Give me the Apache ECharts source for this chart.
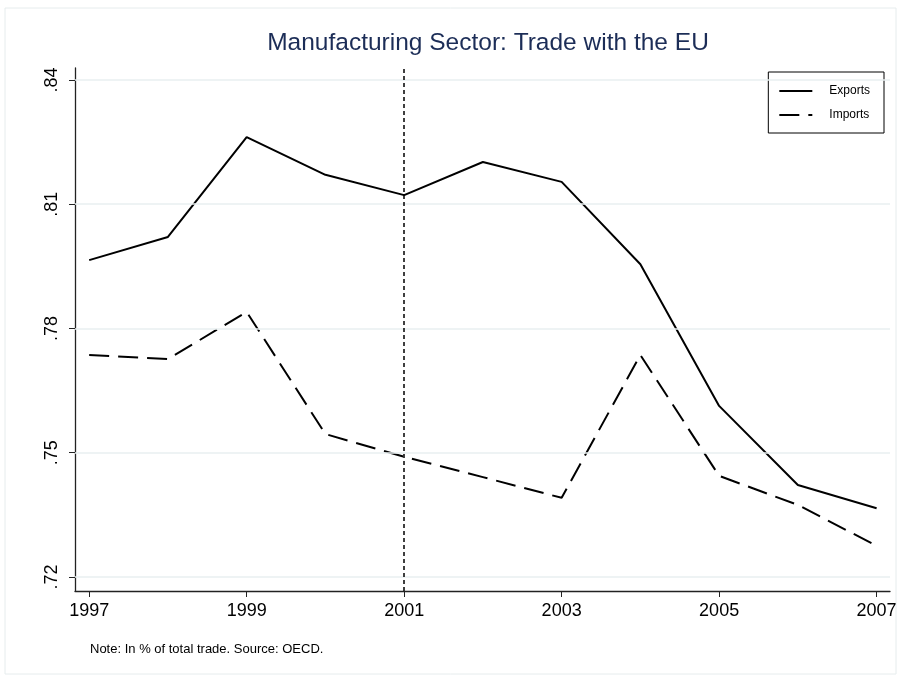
<!DOCTYPE html>
<html>
<head>
<meta charset="utf-8">
<script src="https://cdn.jsdelivr.net/npm/echarts@6/dist/echarts.min.js"></script>
<style>
  html, body { margin: 0; padding: 0; background: #fff; }
  #myChart { width: 904px; height: 681px; }
</style>
</head>
<body>
<div id="myChart"></div>
<script>
// 年份
var years = [1997, 1998, 1999, 2000, 2001, 2002, 2003, 2004, 2005, 2006, 2007];
// 出口占比
var exportsData = [0.7965, 0.8021, 0.8262, 0.8171, 0.8122, 0.8202, 0.8154, 0.7955, 0.7613, 0.7422, 0.7366];
// 进口占比
var importsData = [0.7736, 0.7726, 0.7840, 0.7545, 0.7490, 0.7441, 0.7391, 0.7736, 0.7444, 0.7374, 0.7275];
var xTicks = [1997, 1999, 2001, 2003, 2005, 2007];
var yTicks = [0.72, 0.75, 0.78, 0.81, 0.84];
var markYear = 2001;

const font = 'Liberation Sans, Arial, Helvetica, sans-serif';

function pairs(vals) {
    return years.map(function (y, i) { return [y, vals[i]]; });
}

let myChart = echarts.init(document.getElementById('myChart'));
myChart.setOption({
    animation: false,
    title: {
        text: 'Manufacturing Sector: Trade with the EU',
        left: 483,
        textAlign: 'center',
        top: 26,
        textStyle: { color: '#1c2d57', fontFamily: font, fontWeight: 'normal', fontSize: 24.5 }
    },
    graphic: [
        {
            type: 'rect',
            shape: { x: 5, y: 8, width: 891, height: 666 },
            style: { fill: 'none', stroke: '#e6eced', lineWidth: 1 },
            z: -1
        },
        {
            type: 'text',
            left: 90,
            top: 643,
            style: { text: 'Note: In % of total trade. Source: OECD.', fill: '#000', font: '13px ' + font }
        }
    ],
    legend: {
        right: 20,
        top: 72,
        orient: 'vertical',
        itemWidth: 33,
        itemHeight: 2,
        itemGap: 12,
        padding: [13, 14, 12, 10],
        borderColor: '#000',
        borderWidth: 1,
        textStyle: { fontFamily: font, fontSize: 12, color: '#000', padding: [0, 0, 0, 12] },
        data: ['Exports', 'Imports']
    },
    grid: { left: 75, right: 14, top: 68, bottom: 90 },
    xAxis: {
        type: 'value',
        min: 1996.82,
        max: 2007.17,
        axisLine: { lineStyle: { color: '#222', width: 1.3 } },
        axisTick: { customValues: xTicks, length: 6, lineStyle: { color: '#222' } },
        axisLabel: {
            customValues: xTicks,
            margin: 11,
            color: '#000',
            fontFamily: font,
            fontSize: 18,
            formatter: function (v) { return String(v); }
        },
        splitLine: { show: false }
    },
    yAxis: {
        type: 'value',
        min: 0.7166,
        max: 0.8429,
        axisLine: { show: true, lineStyle: { color: '#222', width: 1.3 } },
        axisTick: { show: true, customValues: yTicks, length: 6, lineStyle: { color: '#222' } },
        axisLabel: {
            customValues: yTicks,
            rotate: 90,
            margin: 14,
            color: '#000',
            fontFamily: font,
            fontSize: 18,
            formatter: function (v) { return '.' + Math.round(v * 100); }
        },
        splitLine: { show: false }
    },
    series: [
        {
            name: 'grid',
            type: 'line',
            data: [],
            z: 1,
            silent: true,
            markLine: {
                silent: true,
                symbol: 'none',
                label: { show: false },
                lineStyle: { color: '#e8eff1', width: 1.5, type: 'solid' },
                data: yTicks.map(function (v) { return { yAxis: v }; }).concat([
                    { xAxis: markYear, lineStyle: { color: '#000', width: 1.5, type: [4, 3] } }
                ])
            }
        },
        {
            name: 'Exports',
            type: 'line',
            data: pairs(exportsData),
            symbol: 'none',
            z: 3,
            lineStyle: { color: '#000', width: 2 },
            itemStyle: { color: '#000' }
        },
        {
            name: 'Imports',
            type: 'line',
            data: pairs(importsData),
            symbol: 'none',
            z: 3,
            lineStyle: { color: '#000', width: 2, type: [20, 9] },
            itemStyle: { color: '#000' }
        }
    ]
});
</script>
</body>
</html>
